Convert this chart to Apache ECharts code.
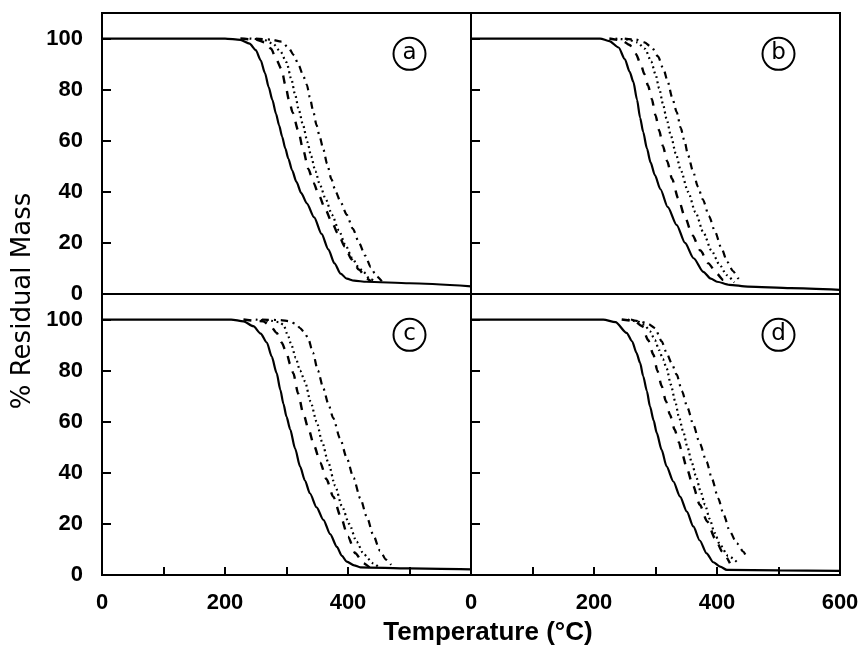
<!DOCTYPE html>
<html>
<head>
<meta charset="utf-8">
<script src="https://cdn.jsdelivr.net/npm/echarts@6/dist/echarts.min.js"></script>
<style>
html,body{margin:0;padding:0;background:#fff;}
#chart{width:868px;height:647px;}
</style>
</head>
<body>
<div id="chart"></div>
<script>
// ---- data ----
const panelLetters = ['a', 'b', 'c', 'd'];
const yTickValues = [0, 20, 40, 60, 80, 100];
const xLabelsLeft = [0, 200, 400];
const xLabelsRight = [0, 200, 400, 600];
const xTitle = 'Temperature (°C)';
const yTitle = '% Residual Mass';

// panel a
const solidA = [[0,100],[200,100],[225,99.5],[240,98],[250,95.5],[258,91.5],[265,86.5],[271,81],[277,76],[283,70.5],[288,66],[293,61.5],[298,57],[303,53],[309,48.5],[316,44],[324,39.5],[333,35.5],[345,30],[357,23.5],[368,17.5],[378,12],[388,8],[398,6],[410,5.2],[430,4.8],[500,4.2],[600,3]];
const dashedA = [[225,100],[250,99.6],[265,98.5],[275,96],[283,92],[292,88],[298,82],[304,76],[310,71],[319,64],[327,56.5],[335.5,49],[344,43.5],[353,38.5],[362.6,33.5],[373,28.5],[384,23.5],[395,18.5],[406,13.5],[418,9.5],[430,6.1],[437,5]];
const dottedA = [[240,100],[262,99.6],[278,98],[290,95],[300,90.7],[308,84],[314,78],[320,72],[327,66],[334,59.5],[340,54],[347,48],[354.5,42.6],[364,37],[374,31],[385,25],[396,19],[407,14],[417,10.5],[425,8.7],[435,6],[443,5]];
const dashdotA = [[250,100],[275,99.6],[292,98.8],[303,96.5],[312,93.5],[320,89.5],[327,85.5],[333,82],[338,77],[343,72],[349,66],[354,61.5],[360,56.5],[366,51],[373,45],[380,40],[388,36],[398,31],[408,25.5],[418,20],[428,15],[437,10.5],[446,7],[455,5]];

// panel b
const solidB = [[0,100],[210,100],[225,99],[240,96.5],[250,92],[258,87],[264,83],[270,76],[275,69],[280,63.4],[286,57],[292,51.5],[299,46.5],[308,41],[320,34],[334.5,27],[348,20],[362,14],[377.7,8.7],[390,6],[400,4.8],[420,3.6],[450,2.9],[520,2.3],[600,1.6]];
const dashedB = [[225,100],[245,99.3],[258,97.5],[268,94],[276,90],[282,86],[288,81.5],[294,76.4],[300,70],[306,64],[312,58],[319,52],[327,45],[337,37.4],[348,30],[360,23],[373,17],[386,12],[399.5,8],[410,5.5],[418,4.2]];
const dottedB = [[235,100],[255,99.6],[270,98.5],[283,96],[293,91],[300,86],[306,80.5],[312,74.5],[318,68.6],[325,62],[333,55],[341,48.5],[353,40],[365,32],[378,24],[391,17],[404,11.5],[416,7.4],[428,4.5]];
const dashdotB = [[250,100],[268,99.6],[282,98.5],[294,96.5],[304,93],[313,88],[320,83],[327,77],[334.5,71.2],[341,65],[347,60],[353,54.3],[361,48],[369,42],[377,37],[387,30.5],[397,24.3],[407,18],[417,12.5],[426,9],[434.6,6.1],[438,5.2]];

// panel c
const solidC = [[0,100],[210,100],[230,99.3],[246,97.4],[258,94.5],[268,91],[276,85.5],[284,79],[290,72.5],[295,67],[300,62],[306,57],[314,49.5],[322,42.5],[330,37],[338,32],[349,26.5],[360,21.6],[371,16],[382,11],[390,7.5],[398,5.2],[410,3.8],[420,3],[500,2.6],[600,2.2]];
const dashedC = [[230,100],[262,99.3],[274,97.5],[284,94.8],[292,91],[300,87],[306,82.5],[311,79],[319,71],[327,63.4],[336,57],[345,50.5],[355,44],[365,37.5],[376,30.7],[388,23],[400,15],[412,8.5],[425,4.6],[435,3]];
const dottedC = [[250,100],[275,99.5],[288,99],[295,98],[302,94],[308,90],[315,85],[322,80],[330,75.8],[339,68],[349,60],[358,52],[368,44],[379,35],[390,27],[402,20],[414,13],[426,8],[441,4.6],[450,3]];
const dashdotC = [[260,100],[290,99.8],[305,99.3],[315,98.3],[322,96.7],[329,95],[335,92.8],[343,87],[351,80],[360,73],[368,67],[376,61.4],[387,53.5],[398,45.8],[409,38],[420,30],[431,22.5],[441,15.7],[452,9.5],[462,6],[470,4]];

// panel d
const solidD = [[0,100],[215,100],[235,99],[253,94.8],[262,91.5],[269,87],[275,83],[280,77.8],[286,72],[291,66],[297,60.5],[302,55.6],[310,49],[318,42.5],[329,36.6],[340,30.7],[351,24.8],[361.5,19],[372,13.5],[383,8.5],[394,5],[405,3.3],[416,2],[500,1.8],[600,1.6]];
const dashedD = [[245,100],[265,99.5],[278,97.5],[288,92],[296.5,86.3],[303,80],[310,74],[317,68],[323.6,62.7],[331,57],[338,52],[344,47],[350.7,41.8],[361,35],[372,27.5],[384,21],[396.7,14.4],[409,9],[421,4.6]];
const dottedD = [[255,100],[270,99.3],[282,98],[291,95.4],[299,92],[306,88],[312,84.5],[318,81],[325,74.5],[332,68],[338,62],[345,56.2],[352,50],[359,44],[366,38.5],[373,33],[380.5,27.5],[388,22],[396,16.5],[405,11.8],[418,7.5],[432,5.2]];
const dashdotD = [[260,100],[275,99.3],[288,98.3],[299,96.7],[310,91.5],[318,87],[326,83],[334.5,78.4],[343,72],[352,65.5],[361.5,58.8],[372,51.5],[383,44.4],[392,37.5],[402,30],[411,23.5],[421,17],[432,12.5],[443,9.1],[446,8]];

const panels = [
  [solidA, dashedA, dottedA, dashdotA],
  [solidB, dashedB, dottedB, dashdotB],
  [solidC, dashedC, dottedC, dashdotC],
  [solidD, dashedD, dottedD, dashdotD]
];

// ---- chart ----
const chart = echarts.init(document.getElementById('chart'), null, {renderer: 'canvas'});

const gridPos = [
  {left: 102, top: 13, width: 369, height: 281},
  {left: 471, top: 13, width: 369, height: 281},
  {left: 102, top: 294, width: 369, height: 281},
  {left: 471, top: 294, width: 369, height: 281}
];
const grids = gridPos.map(g => Object.assign({
  show: true, borderColor: '#000', borderWidth: 2, backgroundColor: 'transparent', containLabel: false
}, g));

const labelFont = {fontFamily: "'Liberation Sans', Arial, sans-serif", fontSize: 22, fontWeight: 'bold', color: '#000'};

const xAxes = [0,1,2,3].map(i => {
  const bottom = i >= 2;
  const labels = i === 2 ? xLabelsLeft : xLabelsRight;
  return {
    type: 'value', gridIndex: i, min: 0, max: 600, interval: 100,
    axisLine: {show: false},
    splitLine: {show: false},
    axisTick: {show: bottom, inside: true, length: 8, lineStyle: {color: '#000', width: 2}},
    axisLabel: {
      show: bottom, margin: 17, interval: 0,
      formatter: v => labels.indexOf(v) >= 0 ? String(v) : '',
      ...labelFont
    }
  };
});
const yAxes = [0,1,2,3].map(i => {
  const left = (i % 2) === 0;
  return {
    type: 'value', gridIndex: i, min: 0, max: 110, interval: 20,
    axisLine: {show: false},
    splitLine: {show: false},
    axisTick: {show: true, inside: true, length: 9, lineStyle: {color: '#000', width: 2}},
    axisLabel: {
      show: left, margin: 19,
      formatter: v => yTickValues.indexOf(v) >= 0 ? String(v) : '',
      ...labelFont
    }
  };
});

const styles = [
  {type: 'solid', width: 2.2},
  {type: [8, 8], width: 2.4},
  {type: [1.8, 3.4], width: 2.2},
  {type: [7, 5, 2, 5], width: 2.2}
];

const series = [];
panels.forEach((curves, p) => {
  curves.forEach((data, k) => {
    const s = {
      type: 'line', xAxisIndex: p, yAxisIndex: p, data: data,
      showSymbol: false, symbol: 'none', smooth: 0.25, smoothMonotone: 'x',
      lineStyle: {color: '#000', width: styles[k].width, type: styles[k].type, cap: 'butt'},
      silent: true, z: 3
    };
    if (k === 0) {
      s.markPoint = {
        silent: true, animation: false,
        symbol: 'circle', symbolSize: 32,
        itemStyle: {color: '#fff', borderColor: '#000', borderWidth: 2},
        label: {show: true, position: 'inside', formatter: '{b}', color: '#000',
                fontFamily: 'DejaVu Sans', fontSize: 23, fontWeight: 'normal', offset: [0, -1]},
        data: [{name: panelLetters[p], coord: [500, 94]}]
      };
    }
    series.push(s);
  });
});

chart.setOption({
  animation: false,
  backgroundColor: '#fff',
  grid: grids,
  xAxis: xAxes,
  yAxis: yAxes,
  series: series,
  graphic: [
    {type: 'text', x: 488, y: 633, style: {text: xTitle, fill: '#000',
      font: "bold 26px 'Liberation Sans', Arial, sans-serif", textAlign: 'center', textVerticalAlign: 'middle'}},
    {type: 'text', x: 23, y: 301, rotation: Math.PI / 2,
      style: {text: yTitle, fill: '#000', font: "26px 'DejaVu Sans'", textAlign: 'center', textVerticalAlign: 'middle'}}
  ]
});
</script>
</body>
</html>
